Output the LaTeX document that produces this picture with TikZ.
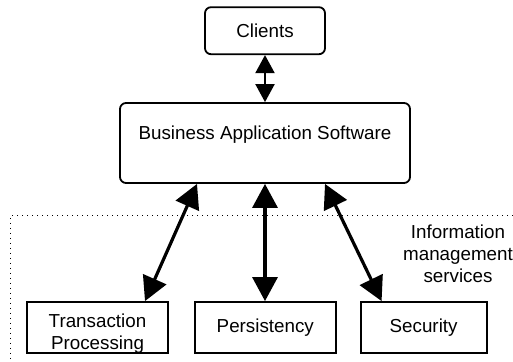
\documentclass[tikz,border=0pt]{standalone}
\usepackage{fontspec}
\setmainfont{Liberation Sans}
\usetikzlibrary{positioning,arrows.meta}

\begin{document}
\begin{tikzpicture}[x=0.5pt,y=-0.5pt,
        font=\fontsize{9.4}{10.9}\selectfont,
        box/.style={draw,line width=0.9pt,inner sep=0pt,align=center},
        rbox/.style={box,rounded corners=3pt},
        link/.style={line width=1.6pt,{Triangle[length=12pt,width=12.5pt]}-{Triangle[length=12pt,width=12.5pt]}},
        thinlink/.style={line width=1pt,{Triangle[length=9pt,width=9.5pt]}-{Triangle[length=9pt,width=9.5pt]}}]
        \useasboundingbox (0,0) rectangle (513,362);
        \node[rbox, minimum width=145pt, minimum height=40pt, text height=7pt, text depth=10pt] at (265,143) (bas) {Business Application Software};
        \node[rbox, minimum width=60pt, minimum height=23.5pt, above=23.5pt of bas] (clients) {Clients};
        % services
        \node[box, minimum width=70.5pt, minimum height=25.5pt, text height=23.5pt] at (97.5,327.5) (tp) {Transaction\\Processing};
        \node[box, minimum width=70.5pt, minimum height=25.5pt, right=12.5pt of tp] (pers) {Persistency};
        \node[box, minimum width=63pt, minimum height=25.5pt, right=11.5pt of pers] (sec) {Security};
        \node[align=center] at (458,254) (ims) {Information\\management\\services};
        \draw[dotted, line width=0.5pt] (513,216) -- (10,216) -- (10,362);
        \draw[thinlink] (clients.south) -- (bas.north);
        \draw[link] ([xshift=-34pt]bas.south) -- ([xshift=23.75pt]tp.north);
        \draw[link] (bas.south) -- (bas.south |- pers.north);
        \draw[link] ([xshift=30pt]bas.south) -- ([xshift=-21pt]sec.north);
\end{tikzpicture}
\end{document}
